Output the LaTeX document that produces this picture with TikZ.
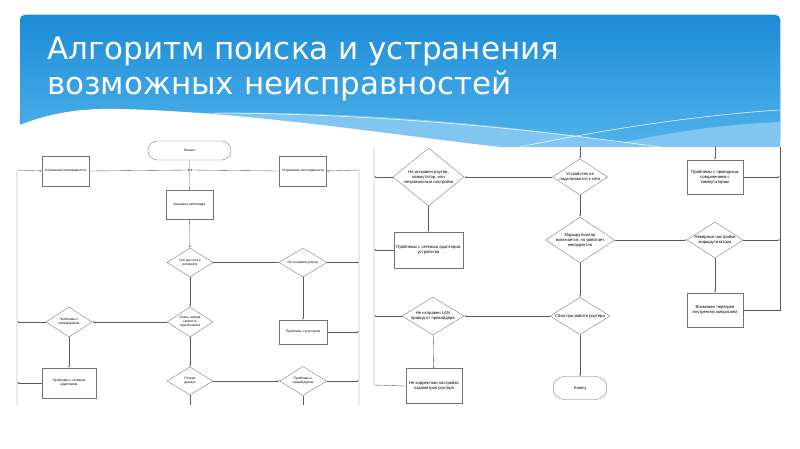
\documentclass[tikz,border=0pt]{standalone}
\usepackage{fontspec}
\setmainfont{DejaVu Sans}
\newfontfamily\chartfont{Liberation Sans}
\usetikzlibrary{shapes.geometric,shapes.misc,arrows.meta}

\definecolor{skytop}{RGB}{28,140,215}
\definecolor{skylow}{RGB}{80,178,234}
\definecolor{skypale}{RGB}{128,198,240}

\begin{document}
\begin{tikzpicture}[
  x=1pt,y=-1pt,
  >={Latex[length=2pt,width=1.6pt]},
  ltext/.style={font=\chartfont\fontsize{3.3}{4}\selectfont},
  rtext/.style={font=\chartfont\fontsize{4.2}{5}\selectfont},
  block/.style={draw=black!55,fill=white,line width=0.35pt,inner sep=1pt,align=center},
  gate/.style={draw=black!55,fill=white,line width=0.35pt,diamond,aspect=1.5,inner sep=0pt,align=center},
  term/.style={draw=black!55,fill=white,line width=0.35pt,rounded rectangle,inner sep=1pt,align=center},
  wire/.style={draw=black!65,line width=0.35pt},
  flow/.style={->,wire}
]
  \useasboundingbox[fill=white] (0,0) rectangle (800,449);

  % header
  \fill[top color=skytop,bottom color=skylow,rounded corners=5pt]
    (20,147) -- (20,15) -- (780,15) -- (780,147) -- cycle;
  \fill[skypale] (200,113) .. controls (350,110) and (520,125) .. (650,147) -- (200,147) -- cycle;
  \fill[skypale] (600,147) .. controls (680,130) and (730,124) .. (780,122) -- (780,147) -- cycle;
  \fill[white] (20,125) .. controls (50,113) and (80,108) .. (120,109)
    .. controls (250,112) and (400,136) .. (500,147) -- (20,147) -- cycle;
  \draw[white,line width=0.5pt] (215,113) .. controls (400,114) and (550,132) .. (660,147);
  \draw[white,line width=0.5pt] (520,147) .. controls (600,130) and (700,115) .. (780,110);
  \node[anchor=base west,inner sep=0pt,text=white,align=left,
    font=\fontsize{31}{35}\selectfont] (title) at (47,95)
    {Алгоритм поиска и устранения\\возможных неисправностей};

  % left part
  \node[term,ltext,minimum width=85pt,minimum height=19pt] (start) at (189.5,150.5) {Начало};
  \node[block,ltext,minimum width=47pt,minimum height=30pt] (fixL) at (65.5,171) {Устранение неисправности};
  \node[block,ltext,minimum width=47pt,minimum height=30pt] (fixR) at (303,171) {Устранение неисправности};
  \node[block,ltext,minimum width=47pt,minimum height=29pt] (onset) at (189.5,204.5) {Возникла неполадка};
  \node[gate,ltext,minimum width=46pt,minimum height=29pt] (noNet) at (190,262.5) {Нет доступа к\\интернету};
  \node[gate,ltext,minimum width=48pt,minimum height=29pt] (badRouter) at (303,262.5) {Не исправен роутер};
  \node[block,ltext,minimum width=48pt,minimum height=24pt] (routerBox) at (303,332) {Проблемы с роутером};
  \node[gate,ltext,minimum width=46pt,minimum height=30pt] (slow) at (190,322) {Очень низкая\\скорость\\подключения};
  \node[gate,ltext,minimum width=46pt,minimum height=30pt] (isp) at (69,322) {Проблемы с\\провайдером};
  \node[block,ltext,minimum width=54pt,minimum height=30pt] (nicBox) at (69,383) {Проблемы с сетевым\\адаптером};
  \node[gate,ltext,minimum width=46pt,minimum height=28pt] (loss) at (190,381) {Потеря\\данных};
  \node[gate,ltext,minimum width=47pt,minimum height=29pt] (isp2) at (303,381) {Проблемы с\\провайдером};

  \coordinate (hub) at (190,170);
  \coordinate (busLtop) at (17,170);
  \coordinate (busLbot) at (17,405);
  \coordinate (busRtop) at (359,170);
  \coordinate (busRbot) at (359,405);
  \coordinate (lossEnd) at (190,405);
  \coordinate (ispEnd) at (303,405);

  \draw[flow] (start) -- (onset);
  \draw[flow] (busLbot) -- (busLtop) -- (fixL.west);
  \draw[flow] (busRbot) -- (busRtop) -- (fixR.east);
  \draw[flow] (fixL.east) -- (hub);
  \draw[flow] (fixR.west) -- (hub);
  \draw[flow] (onset) -- (noNet);
  \draw[flow] (noNet) -- (badRouter);
  \draw[flow] (badRouter.east) -- (badRouter.east -| busRtop);
  \draw[flow] (badRouter) -- (routerBox);
  \draw[flow] (routerBox.east) -- (routerBox.east -| busRtop);
  \draw[flow] (noNet) -- (slow);
  \draw[flow] (slow) -- (isp);
  \draw[flow] (isp.west) -- (isp.west -| busLtop);
  \draw[flow] (isp) -- (nicBox);
  \draw[flow] (nicBox.west) -- (nicBox.west -| busLtop);
  \draw[flow] (slow) -- (loss);
  \draw[flow] (loss) -- (isp2);
  \draw[flow] (isp2.east) -- (isp2.east -| busRtop);
  \draw[wire] (loss) -- (lossEnd);
  \draw[wire] (isp2) -- (ispEnd);

  % right part
  \node[gate,rtext,minimum width=71pt,minimum height=58pt] (badGear) at (428.5,177) {Не исправен роутер,\\коммутатор, или\\неправильные настройки};
  \node[gate,rtext,minimum width=55pt,minimum height=34pt] (noConn) at (580,177) {Устройства не\\подключаются к сети};
  \node[block,rtext,minimum width=56pt,minimum height=34pt] (wiredBox) at (715,177) {Проблемы с проводным\\соединением с\\коммутатором};
  \node[block,rtext,minimum width=69pt,minimum height=36pt] (nicBox2) at (428.5,250) {Проблемы с сетевым адаптером\\устройства};
  \node[gate,rtext,minimum width=55pt,minimum height=35pt] (routerOdd) at (580,240) {Маршрутизатор\\включается, но работает\\некорректно};
  \node[gate,rtext,minimum width=56pt,minimum height=35pt] (badCfg) at (715,240) {Неверные настройки\\маршрутизатора};
  \node[block,rtext,minimum width=56pt,minimum height=34pt] (heatBox) at (715,310) {Возможен перегрев\\внутренних микросхем};
  \node[gate,rtext,minimum width=60pt,minimum height=35pt] (glitch) at (580,316) {Сбои при работе роутера};
  \node[gate,rtext,minimum width=62pt,minimum height=35pt] (lan) at (433,316) {Не исправен LAN\\провод от провайдера};
  \node[block,rtext,minimum width=56pt,minimum height=35pt] (setupBox) at (434,386) {Не корректная настройка\\параметров роутера};
  \node[term,rtext,minimum width=56pt,minimum height=23pt] (stop) at (580,388) {Конец};

  \coordinate (busL2top) at (374,147);
  \coordinate (busL2bot) at (374,385);
  \coordinate (colCtop) at (580,147);
  \coordinate (colRtop) at (715,147);
  \coordinate (busR2top) at (780,147);
  \coordinate (busR2bot) at (780,310);

  \draw[wire] (setupBox.west) -- (busL2bot) -- (busL2top);
  \draw[wire] (heatBox.east) -- (busR2bot) -- (busR2top);
  \draw[flow] (colCtop) -- (noConn);
  \draw[flow] (colRtop) -- (wiredBox);
  \draw[flow] (noConn) -- (badGear);
  \draw[flow] (badGear.west) -- (badGear.west -| busL2top);
  \draw[flow] (badGear) -- (nicBox2);
  \draw[flow] (nicBox2.west) -- (nicBox2.west -| busL2top);
  \draw[flow] (wiredBox.east) -- (wiredBox.east -| busR2top);
  \draw[flow] (noConn) -- (routerOdd);
  \draw[flow] (routerOdd) -- (badCfg);
  \draw[flow] (badCfg.east) -- (badCfg.east -| busR2top);
  \draw[flow] (badCfg) -- (heatBox);
  \draw[flow] (routerOdd) -- (glitch);
  \draw[flow] (glitch) -- (lan);
  \draw[flow] (lan.west) -- (lan.west -| busL2top);
  \draw[flow] (lan) -- (setupBox);
  \draw[flow] (glitch) -- (stop);
\end{tikzpicture}
\end{document}
